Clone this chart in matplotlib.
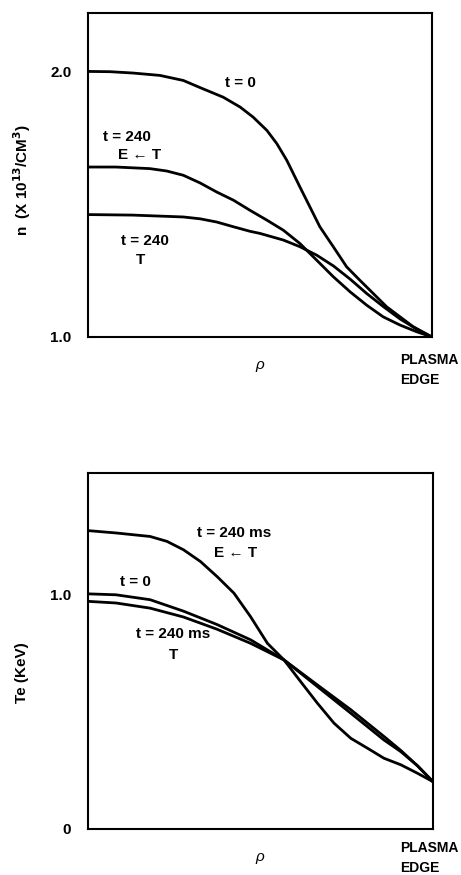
import matplotlib
matplotlib.use("Agg")
import matplotlib.pyplot as plt

FONT = ['Liberation Sans Narrow', 'Liberation Sans', 'DejaVu Sans']
plt.rcParams['font.family'] = FONT
plt.rcParams['font.weight'] = 'bold'

# ---- Top panel: density profiles (n, in 1e13 / cm^3) vs rho ----
n_rho_t0 = [0.0, 0.064, 0.13, 0.209, 0.277, 0.326, 0.393, 0.442, 0.48, 0.52, 0.549,
            0.578, 0.616, 0.645, 0.674, 0.713, 0.752, 0.79, 0.829, 0.868, 0.907, 0.945, 1.0]
n_t0 = [2.0, 1.999, 1.994, 1.985, 1.966, 1.939, 1.903, 1.866, 1.828, 1.778, 1.728,
        1.665, 1.565, 1.49, 1.415, 1.34, 1.264, 1.214, 1.164, 1.114, 1.076, 1.039, 1.0]

n_rho_et = [0.0, 0.081, 0.18, 0.229, 0.277, 0.326, 0.374, 0.423, 0.471, 0.52, 0.568,
            0.616, 0.665, 0.713, 0.762, 0.81, 0.858, 0.907, 0.955, 1.0]
n_et = [1.64, 1.64, 1.634, 1.625, 1.609, 1.58, 1.546, 1.515, 1.477, 1.44, 1.402,
        1.352, 1.289, 1.227, 1.17, 1.12, 1.076, 1.045, 1.02, 1.0]

n_rho_t = [0.0, 0.13, 0.277, 0.326, 0.374, 0.423, 0.471, 0.5, 0.568, 0.616, 0.665,
           0.713, 0.762, 0.81, 0.858, 0.907, 0.955, 1.0]
n_t = [1.461, 1.459, 1.452, 1.445, 1.433, 1.415, 1.398, 1.39, 1.365, 1.34, 1.308,
       1.268, 1.218, 1.164, 1.115, 1.068, 1.03, 1.0]

# ---- Bottom panel: electron temperature (KeV) vs rho ----
te_rho_et = [0.0, 0.081, 0.18, 0.229, 0.277, 0.326, 0.374, 0.423, 0.471, 0.52, 0.568,
             0.616, 0.665, 0.713, 0.762, 0.81, 0.858, 0.907, 0.955, 1.0]
te_et = [1.274, 1.264, 1.249, 1.228, 1.192, 1.142, 1.078, 1.007, 0.907, 0.793, 0.722,
         0.63, 0.537, 0.452, 0.387, 0.345, 0.302, 0.274, 0.238, 0.202]

te_rho_t0 = [0.0, 0.081, 0.18, 0.277, 0.374, 0.471, 0.568, 0.665, 0.762, 0.858, 0.907, 0.955, 1.0]
te_t0 = [1.004, 1.0, 0.979, 0.93, 0.873, 0.808, 0.722, 0.608, 0.494, 0.38, 0.33, 0.27, 0.202]

te_rho_t = [0.0, 0.081, 0.18, 0.277, 0.374, 0.471, 0.568, 0.665, 0.762, 0.858, 0.907, 0.955, 1.0]
te_t = [0.972, 0.965, 0.943, 0.905, 0.853, 0.793, 0.722, 0.615, 0.509, 0.395, 0.335, 0.27, 0.202]

W, H = 461, 875
fig = plt.figure(figsize=(W / 100, H / 100), dpi=100)


def axes_px(l, t, r, b):
    return fig.add_axes([l / W, 1 - b / H, (r - l) / W, (b - t) / H])


LW = 2.0
LINE = dict(color='black', lw=LW, solid_joinstyle='round', solid_capstyle='round')
TXT = dict(fontsize=11, fontweight='bold', color='black', ha='center', va='center')

# Top axes
ax1 = axes_px(88, 13, 432, 337)
ax1.plot(n_rho_t0, n_t0, **LINE)
ax1.plot(n_rho_et, n_et, **LINE)
ax1.plot(n_rho_t, n_t, **LINE)
ax1.set_xlim(0, 1)
ax1.set_ylim(1.0, 2.22)
ax1.set_yticks([1.0, 2.0])
ax1.set_yticklabels(['1.0', '2.0'])
ax1.set_xticks([])

# Bottom axes
ax2 = axes_px(88, 473, 433, 829)
ax2.plot(te_rho_et, te_et, **LINE)
ax2.plot(te_rho_t0, te_t0, **LINE)
ax2.plot(te_rho_t, te_t, **LINE)
ax2.set_xlim(0, 1)
ax2.set_ylim(0, 1.52)
ax2.set_yticks([0, 1.0])
ax2.set_yticklabels(['0', '1.0'])
ax2.set_xticks([])

for ax in (ax1, ax2):
    for s in ax.spines.values():
        s.set_linewidth(1.5)
    ax.tick_params(axis='y', length=0, pad=12, labelsize=11)
    for lab in ax.get_yticklabels():
        lab.set_fontweight('bold')


def ftext(x, y, s, **kw):
    d = dict(TXT)
    d.update(kw)
    fig.text(x / W, 1 - y / H, s, **d)


# Top labels
ftext(240, 83, 't = 0')
ftext(127, 137, 't = 240')
ftext(140, 155, 'E ← T')
ftext(145, 241, 't = 240')
ftext(140, 260, 'T')
ftext(22, 180, r'n  (X 10$^{\mathbf{13}}$/CM$^{\mathbf{3}}$)', rotation=90)
ftext(260, 365, 'ρ', fontweight='normal', fontstyle='italic')
ftext(400, 360, 'PLASMA', ha='left', fontsize=10)
ftext(400, 380, 'EDGE', ha='left', fontsize=10)

# Bottom labels
ftext(234, 533, 't = 240 ms')
ftext(236, 553, 'E ← T')
ftext(135, 582, 't = 0')
ftext(173, 634, 't = 240 ms')
ftext(173, 655, 'T')
ftext(22, 673, 'Te (KeV)', rotation=90)
ftext(260, 857, 'ρ', fontweight='normal', fontstyle='italic')
ftext(400, 848, 'PLASMA', ha='left', fontsize=10)
ftext(400, 868, 'EDGE', ha='left', fontsize=10)

fig.savefig('out.png', dpi=100)
